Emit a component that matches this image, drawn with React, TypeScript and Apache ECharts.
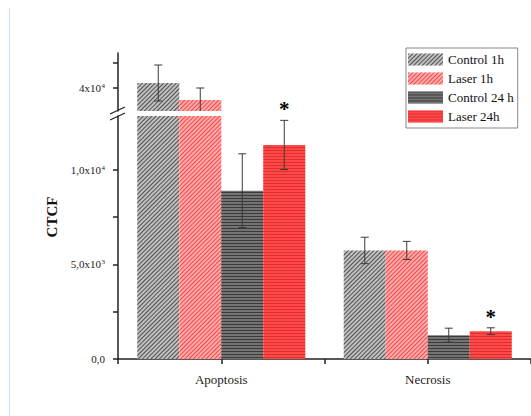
import React, { useEffect, useRef } from 'react';
import * as echarts from 'echarts';

// ---- data ----
const categories = ['Apoptosis', 'Necrosis'];
const seriesNames = ['Control 1h', 'Laser 1h', 'Control 24 h', 'Laser 24h'];
const control1h = [41000, 5740];
const laser1h = [37600, 5740];
const control24h = [8900, 1260];
const laser24h = [11320, 1470];
const control1hErr = [3600, 700];
const laser1hErr = [2400, 480];
const control24hErr = [1950, 370];
const laser24hErr = [1300, 180];
const control1hSig = [false, false];
const laser1hSig = [false, false];
const control24hSig = [false, false];
const laser24hSig = [true, true];

// broken y axis: lower and upper segment extents
const lowerMin = 0;
const lowerMax = 12850;
const upperMin = 35400;
const upperMax = 47000;
const lowerTickValues = [0, 2500, 5000, 7500, 10000];
const lowerLabelValues = [0, 5000, 10000];
const lowerLabels = ['0,0', '5,0x10{sup|3}', '1,0x10{sup|4}'];
const upperTickValues = [40000, 45000];
const upperLabelValues = [40000];
const upperLabels = ['4x10{sup|4}'];

const values = [control1h, laser1h, control24h, laser24h];
const errors = [control1hErr, laser1hErr, control24hErr, laser24hErr];
const sigs = [control1hSig, laser1hSig, control24hSig, laser24hSig];

// ---- styles ----
const FONT = '"Liberation Serif", "Times New Roman", serif';
const BAR_W = 42;
const baseColors = ['#c0c0c0', '#ffabab', '#747474', '#ff4848'];
const lineColors = ['rgba(60,60,60,0.85)', 'rgba(240,60,60,0.9)', 'rgba(45,45,45,0.8)', 'rgba(210,35,35,0.7)'];
const rotations = [-Math.PI / 4, -Math.PI / 4, 0, 0];

const G0 = { left: 118, top: 53, width: 416, height: 58 };
const G1 = { left: 118, top: 116, width: 416, height: 243 };

function decalFor(k: number) {
  return {
    symbol: 'rect',
    symbolSize: 1,
    color: lineColors[k],
    dashArrayX: [1, 0],
    dashArrayY: [1, 2],
    rotation: rotations[k],
  };
}

function makeBar(k: number, grid: number) {
  const lo = grid === 0 ? upperMin : lowerMin;
  return {
    type: 'bar',
    name: seriesNames[k],
    xAxisIndex: grid === 0 ? 0 : 1,
    yAxisIndex: grid,
    barWidth: BAR_W,
    barGap: '0%',
    clip: true,
    data: values[k].map((v) => (v >= lo ? v : '-')),
    itemStyle: { color: baseColors[k], decal: decalFor(k) },
    emphasis: { disabled: true },
  };
}

function makeErr(k: number, grid: number) {
  const lo = grid === 0 ? upperMin : lowerMin;
  const hi = grid === 0 ? upperMax : lowerMax;
  return {
    type: 'custom',
    name: 'err ' + seriesNames[k],
    xAxisIndex: grid === 0 ? 0 : 1,
    yAxisIndex: grid,
    z: 5,
    data: categories.map((c, i) => [i, values[k][i], errors[k][i], sigs[k][i] ? 1 : 0]),
    renderItem: (params: any, api: any) => {
      const i = api.value(0);
      const v = api.value(1);
      const e = api.value(2);
      const sig = api.value(3);
      if (v < lo || v > hi) return null;
      const cs = params.coordSys;
      const clampY = (y: number) => Math.min(Math.max(y, cs.y), cs.y + cs.height);
      const c = api.coord([i, v]);
      const x = c[0] + (k - 1.5) * BAR_W;
      const yTopRaw = api.coord([i, v + e])[1];
      const yBotRaw = api.coord([i, v - e])[1];
      const yTop = clampY(yTopRaw);
      const yBot = clampY(yBotRaw);
      const st = { stroke: '#3a3a3a', lineWidth: 1 };
      const children: any[] = [
        { type: 'line', shape: { x1: x, y1: yTop, x2: x, y2: yBot }, style: st },
      ];
      if (yTopRaw >= cs.y) children.push({ type: 'line', shape: { x1: x - 4, y1: yTop, x2: x + 4, y2: yTop }, style: st });
      if (yBotRaw <= cs.y + cs.height) children.push({ type: 'line', shape: { x1: x - 4, y1: yBot, x2: x + 4, y2: yBot }, style: st });
      if (sig) {
        children.push({
          type: 'text',
          style: {
            text: '*',
            x,
            y: yTop - 11,
            align: 'center',
            verticalAlign: 'middle',
            font: 'bold 21px ' + FONT,
            fill: '#000',
          },
        });
      }
      return { type: 'group', children };
    },
  };
}

const richSup = {
  sup: { fontSize: 7, verticalAlign: 'top', fontFamily: FONT, color: '#222', padding: [0, 0, 0, 0.5] },
};

export default function App() {
  const ref = useRef<HTMLDivElement>(null);
  useEffect(() => {
    if (!ref.current) return;
    const chart = echarts.init(ref.current, undefined, { renderer: 'svg' });
    const axisLine = { show: true, lineStyle: { color: '#222', width: 1.5 } };
    const yLabelBase = { color: '#222', fontFamily: FONT, fontSize: 11, margin: 13, rich: richSup };
    const series: any[] = [];
    for (let g = 0; g < 2; g++) {
      for (let k = 0; k < 4; k++) series.push(makeBar(k, g));
    }
    for (let g = 0; g < 2; g++) {
      for (let k = 0; k < 4; k++) series.push(makeErr(k, g));
    }
    chart.setOption({
      animation: false,
      backgroundColor: '#fff',
      grid: [
        { ...G0, containLabel: false },
        { ...G1, containLabel: false },
      ],
      legend: {
        data: seriesNames,
        orient: 'vertical',
        left: 406,
        top: 48,
        itemWidth: 35,
        itemHeight: 12,
        itemGap: 6,
        icon: 'rect',
        padding: [5, 4, 5, 2],
        borderColor: '#888',
        borderWidth: 1,
        selectedMode: false,
        textStyle: { fontFamily: FONT, fontSize: 13, color: '#111' },
      },
      xAxis: [
        { type: 'category', gridIndex: 0, data: categories, show: false },
        {
          type: 'category',
          gridIndex: 1,
          position: 'bottom',
          data: categories,
          axisLine,
          axisTick: { show: true, alignWithLabel: true, length: 5, lineStyle: { color: '#222', width: 1.5 } },
          axisLabel: { color: '#222', fontFamily: FONT, fontSize: 13, margin: 14 },
        },
        {
          type: 'category',
          gridIndex: 1,
          position: 'bottom',
          offset: 0,
          data: categories,
          axisLine: { show: false },
          axisLabel: { show: false },
          axisTick: { show: true, length: 5, lineStyle: { color: '#222', width: 1.5 } },
        },
      ],
      yAxis: [
        {
          type: 'value',
          gridIndex: 0,
          min: upperMin,
          max: upperMax,
          axisLine,
          splitLine: { show: false },
          axisTick: { show: true, length: 5, customValues: upperTickValues, lineStyle: { color: '#222', width: 1.5 } },
          axisLabel: {
            ...yLabelBase,
            customValues: upperLabelValues,
            formatter: (v: number) => upperLabels[upperLabelValues.indexOf(v)] ?? '',
          },
        },
        {
          type: 'value',
          gridIndex: 1,
          min: lowerMin,
          max: lowerMax,
          axisLine,
          splitLine: { show: false },
          axisTick: { show: true, length: 5, customValues: lowerTickValues, lineStyle: { color: '#222', width: 1.5 } },
          axisLabel: {
            ...yLabelBase,
            customValues: lowerLabelValues,
            formatter: (v: number) => lowerLabels[lowerLabelValues.indexOf(v)] ?? '',
          },
        },
      ],
      graphic: [
        { type: 'line', shape: { x1: 9.5, y1: 8, x2: 9.5, y2: 416 }, style: { stroke: '#c6e6f6', lineWidth: 1 } },
        { type: 'line', shape: { x1: 110, y1: 114, x2: 125, y2: 107 }, style: { stroke: '#222', lineWidth: 1.3 } },
        { type: 'line', shape: { x1: 110, y1: 120, x2: 125, y2: 113 }, style: { stroke: '#222', lineWidth: 1.3 } },
        {
          type: 'text',
          x: 52,
          y: 217,
          rotation: Math.PI / 2,
          style: {
            text: 'CTCF',
            align: 'center',
            verticalAlign: 'middle',
            font: 'bold 15px ' + FONT,
            fill: '#111',
          },
        },
      ],
      series,
    });
    return () => chart.dispose();
  }, []);
  return <div ref={ref} style={{ position: 'absolute', left: 0, top: 0, width: 531, height: 416 }} />;
}
